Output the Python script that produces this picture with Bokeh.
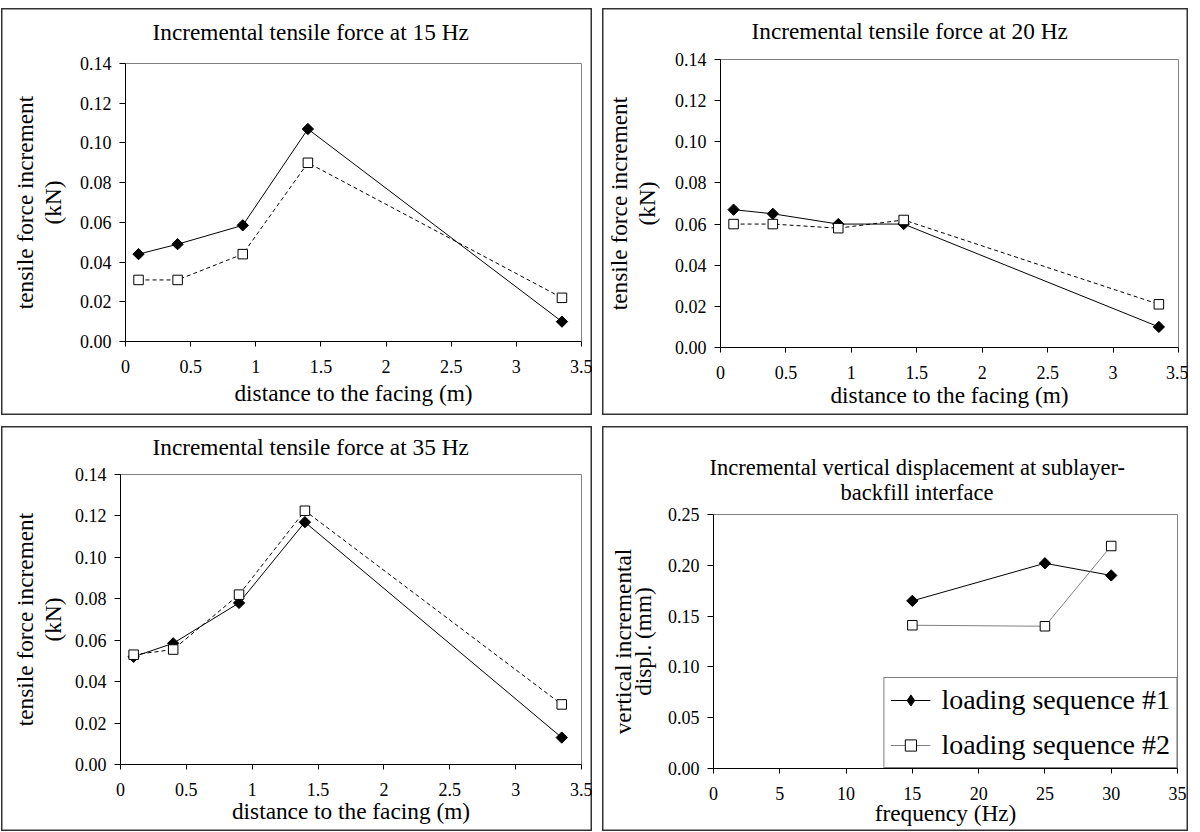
import math
from bokeh.plotting import figure
from bokeh.models import FixedTicker, NumeralTickFormatter, Range1d, Legend, LegendItem, Title
from bokeh.embed import file_html
from bokeh.resources import INLINE

FONT = "Liberation Serif"

# ---------------- data ----------------
distance = [0.1, 0.4, 0.9, 1.4, 3.35]

f15_seq1 = [0.044, 0.049, 0.0585, 0.107, 0.010]
f15_seq2 = [0.031, 0.031, 0.044, 0.090, 0.022]

f20_seq1 = [0.067, 0.065, 0.060, 0.060, 0.010]
f20_seq2 = [0.060, 0.060, 0.058, 0.062, 0.021]

f35_seq1 = [0.052, 0.0585, 0.078, 0.117, 0.013]
f35_seq2 = [0.053, 0.0555, 0.082, 0.1225, 0.029]

frequency = [15, 25, 30]
disp_seq1 = [0.165, 0.202, 0.190]
disp_seq2 = [0.141, 0.140, 0.219]

dist_ticks = [0, 0.5, 1, 1.5, 2, 2.5, 3, 3.5]
force_ticks = [0, 0.02, 0.04, 0.06, 0.08, 0.10, 0.12, 0.14]
freq_ticks = [0, 5, 10, 15, 20, 25, 30, 35]
disp_ticks = [0, 0.05, 0.10, 0.15, 0.20, 0.25]

titles = ["Incremental tensile force at 15 Hz",
          "Incremental tensile force at 20 Hz",
          "Incremental tensile force at 35 Hz"]
title4_lines = ["Incremental vertical displacement at sublayer-", "backfill interface"]
xlabel_dist = "distance to the facing (m)"
ylabel_force = "tensile force increment\n(kN)"
xlabel_freq = "frequency (Hz)"
ylabel_disp = "vertical incremental\ndispl. (mm)"
legend_labels = ["loading sequence #1", "loading sequence #2"]

BOX = "inset 0 0 0 1.5px #333333"


def style_title(t, size, offset, standoff):
    t.text_font = FONT
    t.text_font_size = size
    t.text_font_style = "normal"
    t.text_color = "black"
    t.align = "left"
    t.offset = offset
    t.standoff = standoff


def make_panel(pos, w, h, left, right, top, bottom, title, title_offset,
               title_standoff, xr, yr, xticks, yticks, xfmt, yfmt, xlabel, ylabel,
               xlab_standoff, ylab_standoff, ylab_lh):
    p = figure(width=w, height=h, output_backend="svg", toolbar_location=None,
               x_range=Range1d(*xr), y_range=Range1d(*yr),
               min_border_left=left, min_border_right=right,
               min_border_top=top, min_border_bottom=bottom,
               background_fill_color="white", border_fill_alpha=0,
               outline_line_color="#808080", outline_line_width=1,
               title=title)
    style_title(p.title, "23.3px", title_offset, title_standoff)
    p.xgrid.visible = False
    p.ygrid.visible = False
    p.xaxis.ticker = FixedTicker(ticks=xticks, minor_ticks=[])
    p.yaxis.ticker = FixedTicker(ticks=yticks, minor_ticks=[])
    p.xaxis.formatter = NumeralTickFormatter(format=xfmt)
    p.yaxis.formatter = NumeralTickFormatter(format=yfmt)
    p.xaxis.axis_label = xlabel
    p.yaxis.axis_label = ylabel
    for ax in (p.xaxis[0], p.yaxis[0]):
        ax.axis_line_color = "black"
        ax.axis_line_width = 1
        ax.major_tick_line_color = "black"
        ax.major_tick_in = 0
        ax.minor_tick_line_color = None
        ax.major_label_text_font = FONT
        ax.major_label_text_font_size = "18px"
        ax.major_label_text_color = "black"
        ax.axis_label_text_font = FONT
        ax.axis_label_text_font_size = "23.3px"
        ax.axis_label_text_font_style = "normal"
        ax.axis_label_text_color = "black"
    p.xaxis.major_tick_out = 5
    p.yaxis.major_tick_out = 6
    p.xaxis.major_label_standoff = 13
    p.yaxis.major_label_standoff = 8
    p.xaxis.axis_label_standoff = xlab_standoff
    p.yaxis.axis_label_standoff = ylab_standoff
    p.yaxis.axis_label_text_line_height = ylab_lh
    p.styles = {"position": "absolute", "left": f"{pos[0]}px", "top": f"{pos[1]}px",
                "box-shadow": BOX}
    return p


def add_gap(p, gap):
    # empty spacer between the title and the plot frame
    spacer = Title(text=" ", text_font_size="1px", standoff=max(gap - 3.1, 0))
    p.add_layout(spacer, "above")


def add_series(p, x, s1, s2, dash2="4 3", color2="black"):
    l1 = p.line(x, s1, line_color="black", line_width=1)
    l2 = p.line(x, s2, line_color=color2, line_width=1, line_dash=dash2)
    m1 = p.scatter(x, s1, marker="square", angle=math.pi / 4, size=8,
                   fill_color="black", line_color="black")
    m2 = p.scatter(x, s2, marker="square", size=9.5, fill_color="white",
                   line_color="black", line_width=1)
    return l1, l2, m1, m2


def force_panel(pos, w, h, left, right, top, bottom, title, offset, gap, s1, s2,
                xlab_standoff, ylab_standoff):
    p = make_panel(pos, w, h, left, right, top, bottom, title, offset, 0,
                   (0, 3.5), (0, 0.14), dist_ticks, force_ticks, "0.[0]", "0.00",
                   xlabel_dist, ylabel_force, xlab_standoff, ylab_standoff, 1.08)
    add_gap(p, gap)
    add_series(p, distance, s1, s2)
    return p


p1 = force_panel((1, 8), 591, 407, 124, 11, 55, 74, titles[0], 27, 19,
                 f15_seq1, f15_seq2, 4, 11)
p2 = force_panel((602, 8), 586, 407, 118, 10, 51, 68, titles[1], 31, 16,
                 f20_seq1, f20_seq2, 0, 12)
p3 = force_panel((1, 426), 591, 405, 119, 11, 48, 67, titles[2], 32, 15,
                 f35_seq1, f35_seq2, -1, 6)

# panel 4: two-line title, first line is the outer (figure) title
p4 = make_panel((602, 426), 586, 405, 111, 11, 88, 63, title4_lines[0], -4, -24,
                (0, 35), (0, 0.25), freq_ticks, disp_ticks, "0", "0.00",
                xlabel_freq, ylabel_disp, -3, 9, 0.78)
p4.title.text_font_size = "22.5px"
t4 = Title(text=title4_lines[1])
style_title(t4, "22.5px", 127, 20)
p4.add_layout(t4, "above")

l1, l2, m1, m2 = add_series(p4, frequency, disp_seq1, disp_seq2, dash2="solid",
                            color2="#808080")
# diamond glyph used only for the legend swatch
m1_leg = p4.scatter(frequency, disp_seq1, marker="diamond", size=12,
                    fill_color="black", line_color="black", visible=False)
legend = Legend(items=[LegendItem(label=legend_labels[0], renderers=[l1, m1_leg]),
                       LegendItem(label=legend_labels[1], renderers=[l2, m2])],
                location="bottom_right", margin=0, padding=6, spacing=13,
                glyph_width=40, glyph_height=28, label_height=28, label_standoff=11,
                label_text_font=FONT, label_text_font_size="28px",
                label_text_color="black", border_line_color="black",
                border_line_width=1, background_fill_color="white",
                background_fill_alpha=1, inactive_fill_alpha=0)
p4.add_layout(legend)

open("out.html", "w").write(file_html([p1, p2, p3, p4], INLINE))
